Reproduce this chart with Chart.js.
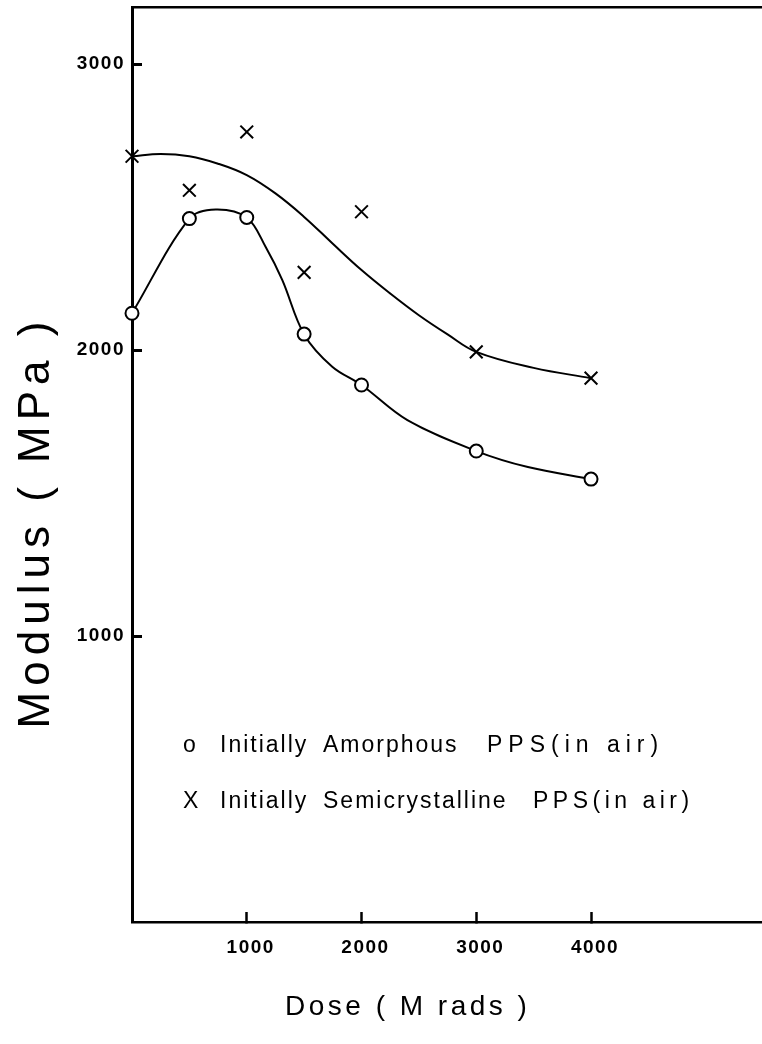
<!DOCTYPE html>
<html><head><meta charset="utf-8">
<script src="https://cdn.jsdelivr.net/npm/chart.js@4.4.0/dist/chart.umd.min.js"></script>
<style>html,body{margin:0;padding:0;background:#fff;overflow:hidden}canvas{display:block}</style>
</head><body>
<canvas id="c" width="762" height="1044"></canvas>
<script>
// ---- data ----
const doseTicks = [1000, 2000, 3000, 4000];
const modulusTicks = [1000, 2000, 3000];

const doseAmorphous = [0, 500, 1000, 1500, 2000, 3000, 4000];
const modulusAmorphous = [2129, 2460, 2464, 2056, 1878, 1647, 1549];

const doseSemi = [0, 500, 1000, 1500, 2000, 3000, 4000];
const modulusSemi = [2678, 2559, 2763, 2272, 2484, 1994, 1902];

// hand-drawn curves
const curveAmorphDose = [0, 500, 730, 1000, 1165, 1310, 1500, 1745, 2000, 2400, 3000, 3450, 4000];
const curveAmorphModulus = [2129, 2460, 2492, 2464, 2361, 2245, 2055, 1942, 1878, 1755, 1647, 1591, 1549];

const curveSemiDose = [0, 250, 500, 750, 1000, 1250, 1500, 1750, 2000, 2250, 2500, 2750, 3000, 3500, 4000];
const curveSemiModulus = [2678, 2686, 2678, 2652, 2612, 2548, 2466, 2372, 2280, 2198, 2122, 2055, 1994, 1938, 1902];

const legendMarks = ['o', 'X'];
const legendWords = [
  ['Initially', 'Amorphous', 'PPS(in air)'],
  ['Initially', 'Semicrystalline', 'PPS(in air)']
];
const xTitle = 'Dose ( M rads )';
const yTitle = 'Modulus ( MPa )';

const pts = (xs, ys) => xs.map((x, i) => ({x: x, y: ys[i]}));

const decor = {
  id: 'decor',
  beforeDraw(chart) { chart.ctx.letterSpacing = '1.5px'; },
  afterDraw(chart) {
    const ctx = chart.ctx;
    ctx.save();
    ctx.fillStyle = '#000';
    ctx.textAlign = 'left';
    ctx.textBaseline = 'alphabetic';
    // legend inside the plot
    ctx.font = '23px "Liberation Sans", Arial, sans-serif';
    const rowY = [752, 808];
    const cols = [[220, 323, 487], [220, 323, 533]];
    const lastSpacing = ['6px', '4.5px'];
    legendMarks.forEach((m, r) => {
      ctx.letterSpacing = '0px';
      ctx.fillText(m, 183, rowY[r]);
      legendWords[r].forEach((w, k) => {
        ctx.letterSpacing = k === 2 ? lastSpacing[r] : '2px';
        ctx.fillText(w, cols[r][k], rowY[r]);
      });
    });
    // x title
    ctx.font = '28px "Liberation Sans", Arial, sans-serif';
    ctx.letterSpacing = '3.5px';
    ctx.fillText(xTitle, 285, 1015);
    // y title
    ctx.font = '44px "Liberation Sans", Arial, sans-serif';
    ctx.letterSpacing = '6px';
    ctx.translate(49, 522);
    ctx.rotate(-Math.PI / 2);
    ctx.textAlign = 'center';
    ctx.fillText(yTitle, 0, 0);
    ctx.restore();
    ctx.letterSpacing = '0px';
  }
};

const tickFont = {family: '"Liberation Sans", Arial, sans-serif', size: 19, weight: 'bold'};
const noPad = s => { s.paddingTop = 0; s.paddingBottom = 0; s.paddingLeft = 0; s.paddingRight = 0; };

new Chart(document.getElementById('c'), {
  type: 'scatter',
  data: {
    datasets: [
      {
        label: 'Initially Amorphous PPS(in air)',
        data: pts(doseAmorphous, modulusAmorphous),
        pointStyle: 'circle', pointRadius: 6.5, pointBorderWidth: 2,
        pointBackgroundColor: '#fff', pointBorderColor: '#000',
        showLine: false, order: 0, clip: false
      },
      {
        label: 'Initially Semicrystalline PPS(in air)',
        data: pts(doseSemi, modulusSemi),
        pointStyle: 'crossRot', pointRadius: 9, pointBorderWidth: 2,
        pointBorderColor: '#000', pointBackgroundColor: '#000',
        showLine: false, order: 0, clip: false
      },
      {
        label: 'Amorphous curve',
        data: pts(curveAmorphDose, curveAmorphModulus),
        showLine: true, borderColor: '#000', borderWidth: 2, pointRadius: 0,
        tension: 0.35, order: 1, clip: false
      },
      {
        label: 'Semicrystalline curve',
        data: pts(curveSemiDose, curveSemiModulus),
        showLine: true, borderColor: '#000', borderWidth: 2, pointRadius: 0,
        tension: 0.4, order: 1, clip: false
      }
    ]
  },
  options: {
    responsive: false,
    animation: false,
    events: [],
    layout: {autoPadding: false, padding: {top: 7, right: 0, left: 0, bottom: 0}},
    plugins: {legend: {display: false}, tooltip: {enabled: false}, title: {display: false}},
    scales: {
      x: {
        type: 'linear', position: 'bottom', min: 0, max: 5490,
        afterBuildTicks: s => { s.ticks = doseTicks.map(v => ({value: v})); },
        afterFit: s => { s.height = 122; noPad(s); },
        ticks: {callback: v => String(v), color: '#000', font: tickFont, padding: 24, labelOffset: 4, maxRotation: 0, autoSkip: false},
        grid: {display: true, drawOnChartArea: false, drawTicks: true, tickLength: -10, tickWidth: 2.5, tickColor: '#000'},
        border: {display: true, color: '#000', width: 2.5}
      },
      x2: {
        type: 'linear', position: 'top', min: 0, max: 5490,
        afterFit: s => { s.height = 0; noPad(s); },
        ticks: {display: false},
        grid: {display: false},
        border: {display: true, color: '#000', width: 2.5}
      },
      y: {
        type: 'linear', position: 'left', min: 0, max: 3200,
        afterBuildTicks: s => { s.ticks = modulusTicks.map(v => ({value: v})); },
        afterFit: s => { s.width = 132; noPad(s); },
        ticks: {callback: v => String(v), color: '#000', font: tickFont, padding: 17},
        grid: {display: true, drawOnChartArea: false, drawTicks: true, tickLength: -10, tickWidth: 3, tickColor: '#000'},
        border: {display: true, color: '#000', width: 3}
      }
    }
  },
  plugins: [decor]
});
</script>
</body></html>
